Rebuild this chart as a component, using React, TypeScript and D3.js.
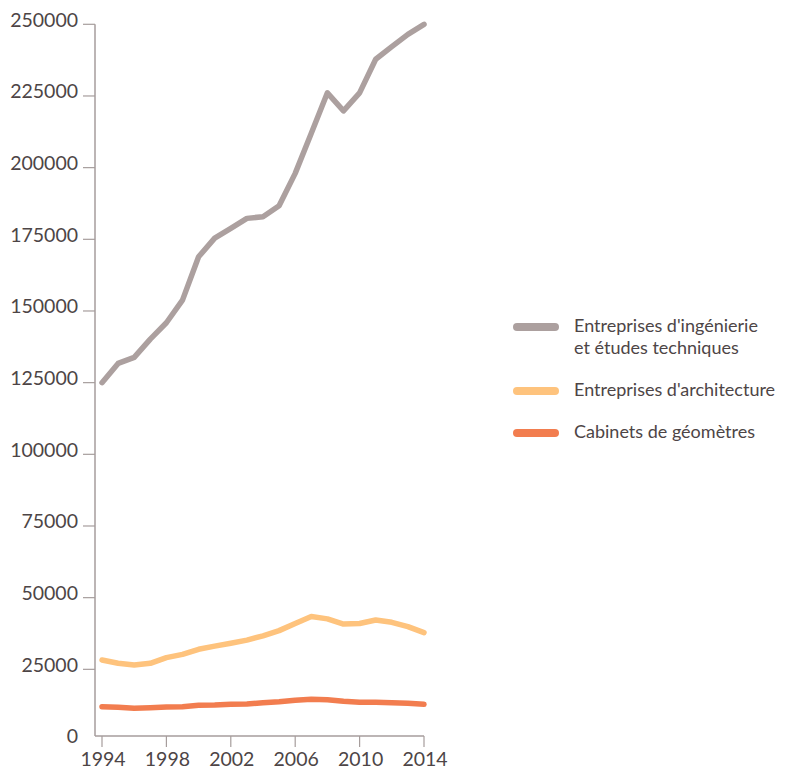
import React, { useEffect, useRef } from 'react';
import * as d3 from 'd3';

const years = d3.range(1994, 2015);

const ingenierie = [
  125000, 131700, 133800, 140200, 145900, 153800, 168900, 175400, 178800, 182300, 182900,
  186700, 198000, 212000, 226100, 219800, 226100, 237800, 242200, 246500, 250000,
];

const architecture = [
  28250, 27100, 26500, 27100, 29100, 30200, 32000, 33100, 34100, 35200, 36700,
  38500, 41000, 43400, 42600, 40800, 41000, 42200, 41400, 39900, 37800,
];

const geometres = [
  11960, 11750, 11400, 11600, 11850, 11960, 12450, 12560, 12800, 12900, 13350,
  13700, 14200, 14550, 14400, 13850, 13500, 13500, 13350, 13150, 12800,
];

const yTicks = [0, 25000, 50000, 75000, 100000, 125000, 150000, 175000, 200000, 225000, 250000];
const xTicks = [1994, 1998, 2002, 2006, 2010, 2014];

const seriesList = [
  { label: ["Entreprises d'ingénierie", 'et études techniques'], values: ingenierie, color: '#aca09f' },
  { label: ["Entreprises d'architecture"], values: architecture, color: '#fec37d' },
  { label: ['Cabinets de géomètres'], values: geometres, color: '#f27d4f' },
];

const FONT = 'Lato, "Open Sans", sans-serif';
const TEXT = '#4d4546';
const AXIS = '#a69d9c';

const App: React.FC = () => {
  const ref = useRef<SVGSVGElement>(null);

  useEffect(() => {
    if (!ref.current) return;
    const svg = d3.select(ref.current);
    svg.selectAll('*').remove();

    const x = d3.scaleLinear().domain([1994, 2014]).range([102, 424]);
    const y = d3.scaleLinear().domain([0, 250000]).range([741, 24.3]);
    const axisY = y(0) - 5;
    const axisX = 95;

    // y axis
    svg.append('line')
      .attr('x1', axisX).attr('x2', axisX)
      .attr('y1', y(250000)).attr('y2', axisY)
      .attr('stroke', AXIS).attr('stroke-width', 1.5);

    yTicks.forEach(t => {
      if (t > 0) {
        svg.append('line')
          .attr('x1', axisX - 12).attr('x2', axisX)
          .attr('y1', y(t)).attr('y2', y(t))
          .attr('stroke', AXIS).attr('stroke-width', 1.2);
      }
      svg.append('text')
        .attr('x', 78)
        .attr('y', t > 0 ? y(t) - 4.5 : axisY)
        .attr('dy', '0.35em')
        .attr('text-anchor', 'end')
        .style('font-family', FONT)
        .style('font-size', '19.5px')
        .attr('fill', TEXT)
        .text(String(t));
    });

    // x axis
    svg.append('line')
      .attr('x1', axisX).attr('x2', x(2014))
      .attr('y1', axisY).attr('y2', axisY)
      .attr('stroke', AXIS).attr('stroke-width', 1.5);

    xTicks.forEach(t => {
      svg.append('line')
        .attr('x1', x(t)).attr('x2', x(t))
        .attr('y1', axisY).attr('y2', axisY + 11)
        .attr('stroke', AXIS).attr('stroke-width', 1.2);
      svg.append('text')
        .attr('x', x(t) + 1)
        .attr('y', 766)
        .attr('text-anchor', 'middle')
        .style('font-family', FONT)
        .style('font-size', '19.5px')
        .attr('fill', TEXT)
        .text(String(t));
    });

    const line = d3.line<number>()
      .x((_, i) => x(years[i]))
      .y(d => y(d));

    // draw bottom series first
    [...seriesList].reverse().forEach(s => {
      svg.append('path')
        .datum(s.values)
        .attr('d', line)
        .attr('fill', 'none')
        .attr('stroke', s.color)
        .attr('stroke-width', 5.5)
        .attr('stroke-linejoin', 'round')
        .attr('stroke-linecap', 'round');
    });

    // legend
    const legendRows = [327, 391, 433];
    seriesList.forEach((s, i) => {
      const g = svg.append('g').attr('transform', `translate(0,${legendRows[i]})`);
      g.append('line')
        .attr('x1', 517).attr('x2', 555)
        .attr('y1', 0).attr('y2', 0)
        .attr('stroke', s.color)
        .attr('stroke-width', 8)
        .attr('stroke-linecap', 'round');
      s.label.forEach((l, j) => {
        g.append('text')
          .attr('x', 574)
          .attr('y', j * 21.5 - 1)
          .attr('dy', '0.35em')
          .style('font-family', FONT)
          .style('font-size', '18px')
          .attr('fill', TEXT)
          .text(l);
      });
    });
  }, []);

  return (
    <svg ref={ref} width={786} height={770} style={{ position: 'absolute', left: 0, top: 0 }} />
  );
};

export default App;
